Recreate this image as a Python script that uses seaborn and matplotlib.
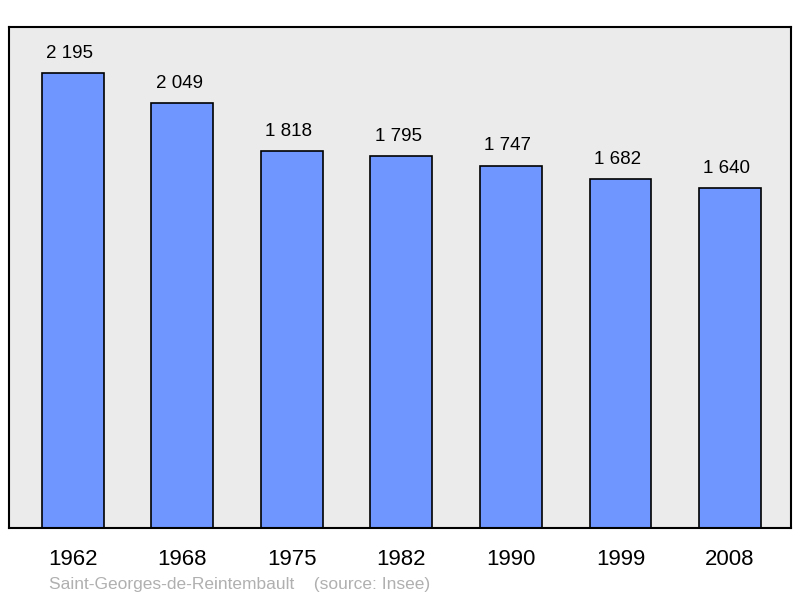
import matplotlib
matplotlib.use("Agg")
import matplotlib.pyplot as plt
import seaborn as sns
import pandas as pd

years = ["1962", "1968", "1975", "1982", "1990", "1999", "2008"]
population = [2195, 2049, 1818, 1795, 1747, 1682, 1640]
labels = ["2 195", "2 049", "1 818", "1 795", "1 747", "1 682", "1 640"]

sns.set_style("white")
plt.rcParams['font.family'] = ['Liberation Sans', 'DejaVu Sans']

fig = plt.figure(figsize=(8, 5.98), dpi=100)
ax = fig.add_axes([9/800, 1-528/598, 782/800, 501/598])
ax.set_facecolor("#ebebeb")
df = pd.DataFrame({"year": years, "pop": population})
sns.barplot(data=df, x="year", y="pop", color="#6f96ff", saturation=1,
            edgecolor="black", linewidth=1.2, width=0.566, ax=ax)
for i, (v, l) in enumerate(zip(population, labels)):
    ax.text(i - 0.03, v + 55, l, ha="center", va="bottom", fontsize=13.5, color="black")
ax.set_xlim(-0.584, 6.557)
ax.set_ylim(0, 2417)
ax.set_yticks([])
ax.set_xlabel("")
ax.set_ylabel("")
ax.tick_params(axis="x", length=0, labelsize=16, pad=15, labelcolor="black")
for s in ax.spines.values():
    s.set_visible(True)
    s.set_linewidth(1.5)
    s.set_color("black")
fig.text(49/800, 1-584/598, "Saint-Georges-de-Reintembault    (source: Insee)",
         color="#b0b0b0", fontsize=12.5, va="center", ha="left")
fig.savefig("out.png", dpi=100)
